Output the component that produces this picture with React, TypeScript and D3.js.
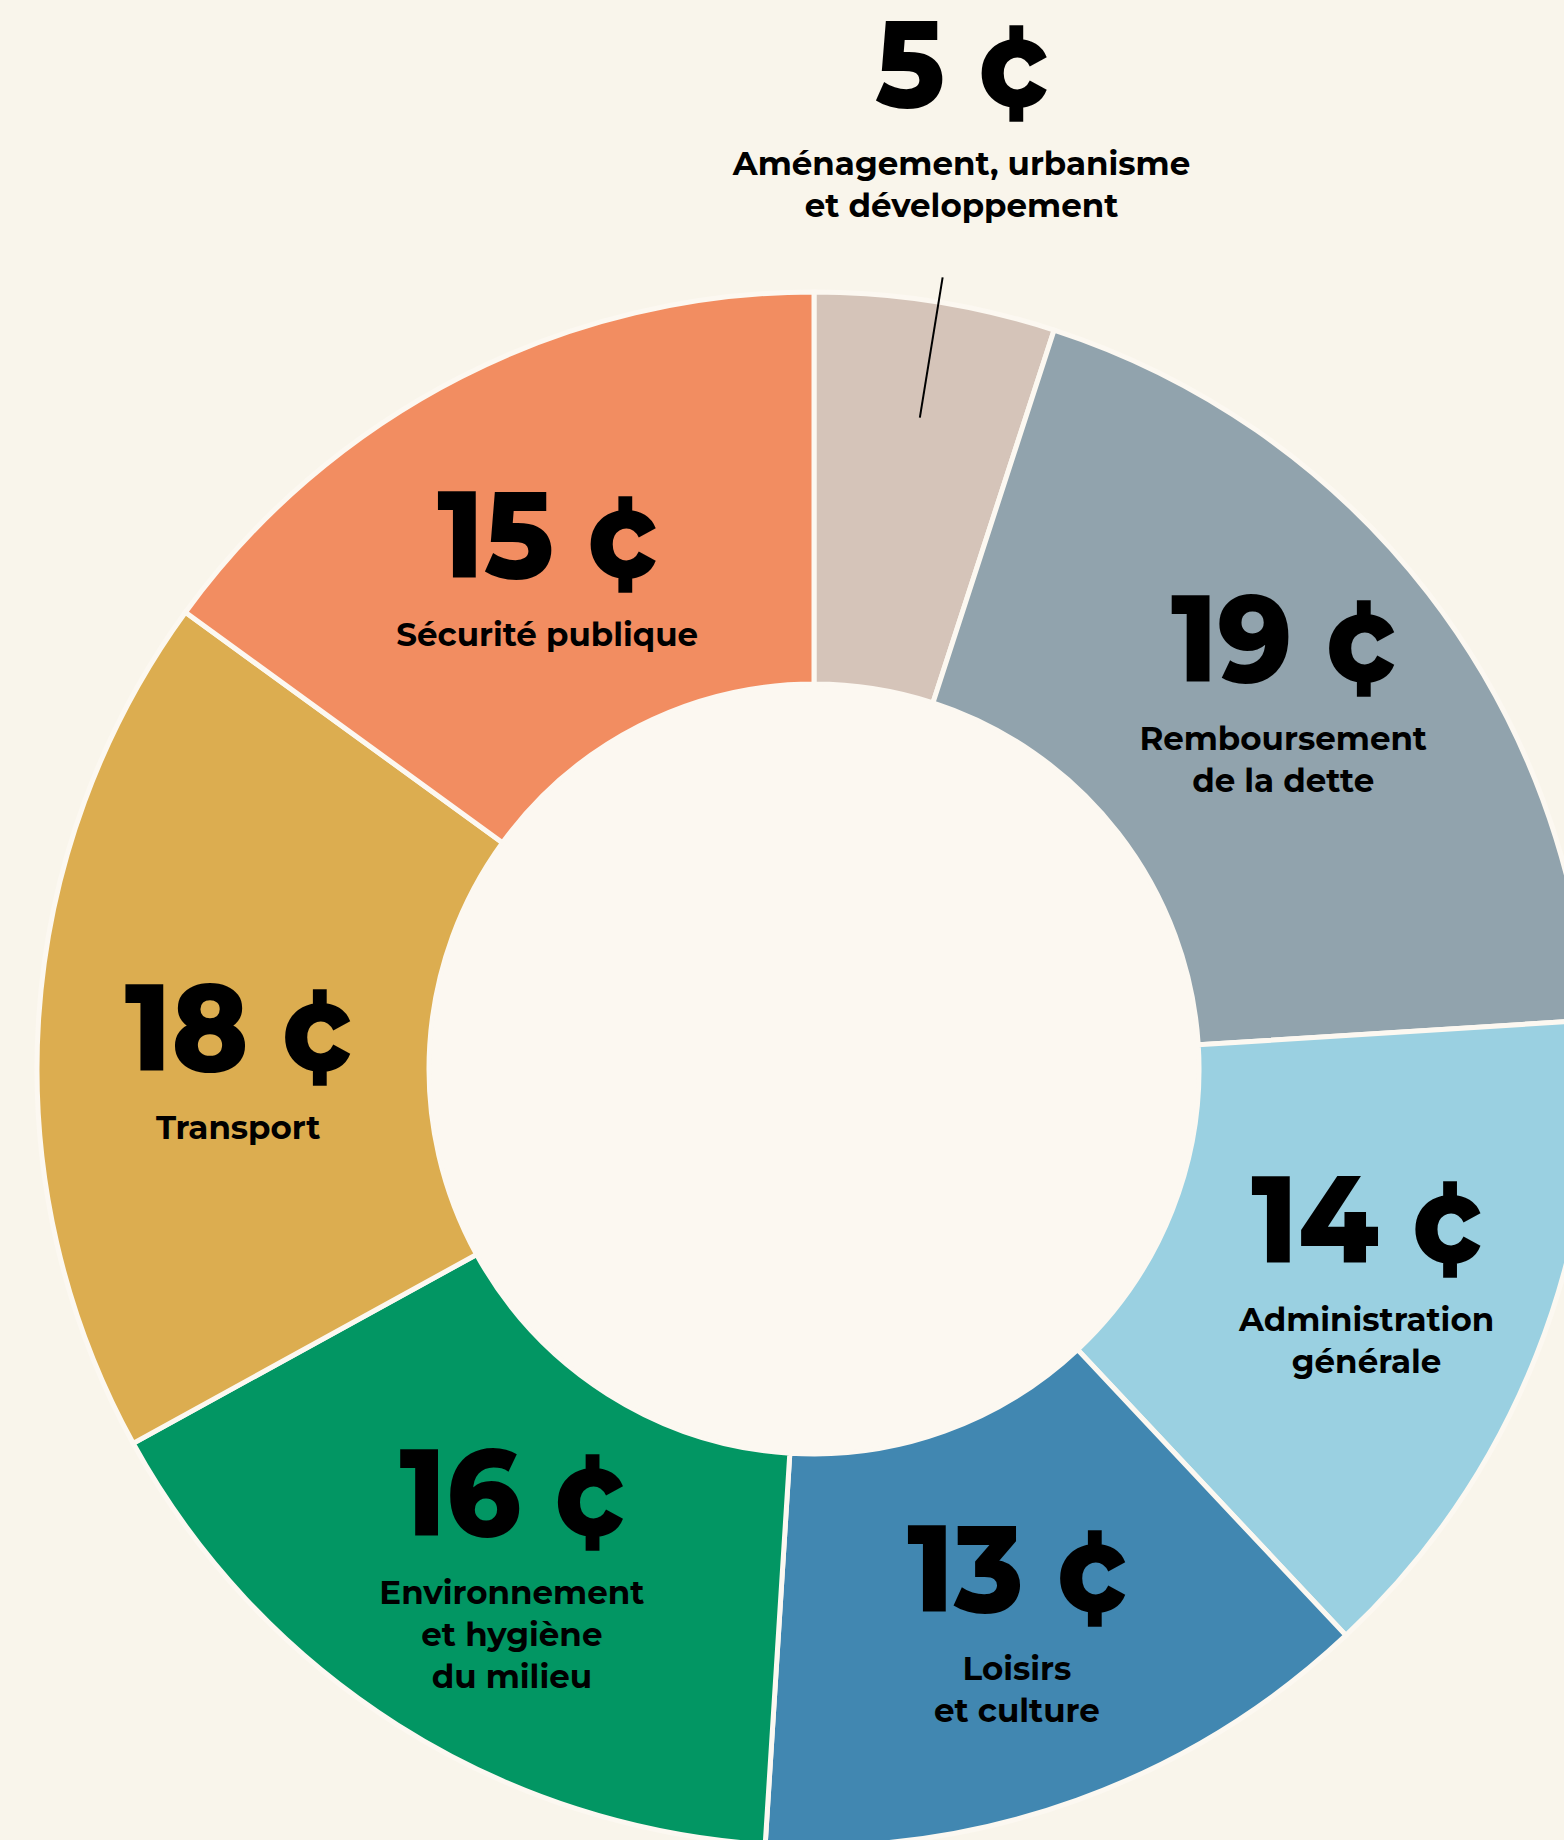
import React from "react";
import * as d3 from "d3";

const categories = [
  "Aménagement, urbanisme et développement",
  "Remboursement de la dette",
  "Administration générale",
  "Loisirs et culture",
  "Environnement et hygiène du milieu",
  "Transport",
  "Sécurité publique",
];
const values = [5, 19, 14, 13, 16, 18, 15];
const labelLines = [
  ["Aménagement, urbanisme", "et développement"],
  ["Remboursement", "de la dette"],
  ["Administration", "générale"],
  ["Loisirs", "et culture"],
  ["Environnement", "et hygiène", "du milieu"],
  ["Transport"],
  ["Sécurité publique"],
];
const colors = ["#d5c4b9", "#91a3ad", "#9ad0e1", "#4187b1", "#029663", "#dcad50", "#f28d61"];
const unit = "¢";

// layout (not data): small hand nudges of label blocks from the slice centroid
const labelNudge: [number, number][] = [
  [-3, -1],
  [3, -14],
  [4, -12],
  [3, -1],
  [14, 1],
  [13, 29],
  [1, 25],
];

const W = 1564;
const H = 1840;
const CX = 814;
const CY = 1069;
const R_OUT = 777;
const R_IN = 385;
const BG = "#f9f5eb";
const HOLE = "#fcf8f1";

const NUM_FONT = "Montserrat, Lato, 'Open Sans', sans-serif";
const LAB_FONT = "Montserrat, Inter, 'Open Sans', sans-serif";

export default function App() {
  const pie = d3.pie<number>().sort(null).value((d) => d);
  const arcs = pie(values);
  const arcGen = d3.arc<d3.PieArcDatum<number>>().innerRadius(R_IN).outerRadius(R_OUT);

  const CAP = 88;
  const GAP1 = 68;
  const LINE = 42;

  return (
    <div style={{ position: "absolute", left: 0, top: 0, width: W, height: H }}>
      <svg width={W} height={H} viewBox={`0 0 ${W} ${H}`} style={{ display: "block" }}>
        <rect x={0} y={0} width={W} height={H} fill={BG} />
        <g transform={`translate(${CX},${CY})`}>
          {arcs.map((a, i) => (
            <path key={categories[i]} d={arcGen(a) || ""} fill={colors[i]} stroke={HOLE} strokeWidth={5} strokeLinejoin="miter" />
          ))}
          <circle r={R_IN - 2} fill={HOLE} />
          {arcs.map((a, i) => {
            const mid = (a.startAngle + a.endAngle) / 2;
            const outside = values[i] < 8;
            const r = outside ? 962 : 590;
            const cx = r * Math.sin(mid) + labelNudge[i][0];
            const cy = -r * Math.cos(mid) + labelNudge[i][1];
            const lines = labelLines[i];
            const blockH = CAP + GAP1 + LINE * (lines.length - 1);
            const numBase = cy - blockH / 2 + CAP;
            const la = mid + 0.004;
            return (
              <g key={"lab" + i}>
                {outside && (
                  <line
                    x1={660 * Math.sin(la)}
                    y1={-660 * Math.cos(la)}
                    x2={802 * Math.sin(la)}
                    y2={-802 * Math.cos(la)}
                    stroke="#000"
                    strokeWidth={2}
                  />
                )}
                <text
                  transform={`translate(${cx},${numBase}) scale(0.93,1)`}
                  textAnchor="middle"
                  fontFamily={NUM_FONT}
                  fontWeight={800}
                  fontSize={124}
                  fill="#000"
                >
                  {`${values[i]} ${unit}`}
                </text>
                {lines.map((ln, j) => (
                  <text
                    key={j}
                    x={cx}
                    y={numBase + GAP1 + LINE * j}
                    textAnchor="middle"
                    fontFamily={LAB_FONT}
                    fontWeight={700}
                    fontSize={32.5}
                    fill="#000"
                  >
                    {ln}
                  </text>
                ))}
              </g>
            );
          })}
        </g>
      </svg>
    </div>
  );
}
